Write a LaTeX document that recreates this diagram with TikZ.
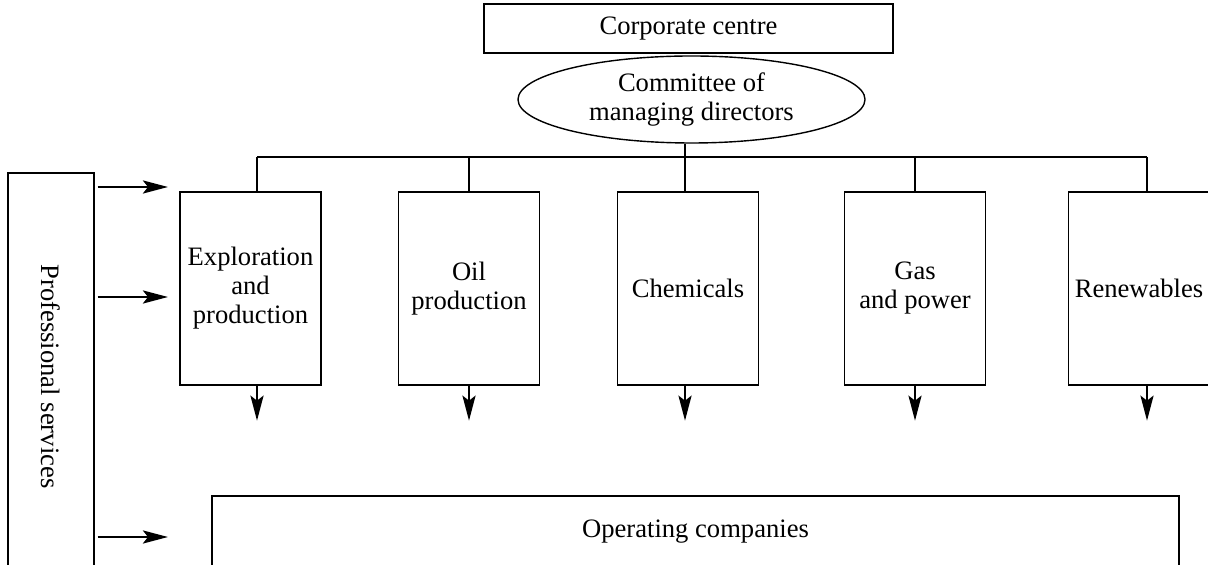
\documentclass[tikz,border=0pt]{standalone}
\usepackage{fontspec}
\setmainfont{Liberation Serif}
\usepackage{graphicx}
\usetikzlibrary{shapes, arrows.meta, positioning}
\tikzstyle{block} = [draw, fill=white, rectangle, line width=0.7pt, inner sep=0pt, align=center]
\tikzstyle{division} = [block, minimum width=70.5pt, minimum height=96.5pt]
\tikzstyle{feed} = [line width=1.35pt, -{Stealth[length=12.5pt, width=6.5pt, inset=2.5pt]}]

\begin{document}
\begin{tikzpicture}[x=0.5pt, y=-0.5pt, font=\fontsize{13.3}{14.5}\selectfont, line width=0.6pt]
    \clip (0,0) rectangle (1208,565);
    \node[block, minimum width=204.5pt, minimum height=24.5pt] (corp) at (688.5,28.5) {Corporate centre};
    \node[ellipse, draw, line width=0.7pt, inner sep=0pt, align=center, minimum width=173.5pt, minimum height=43.5pt] (cmd) at (691.5,99.5) {Committee of\\managing directors};
    \node[division] (expl) at (250.5,288.5) {Exploration\\and\\production};
    \node[division] (oil) at (469,288.5) {Oil\\production};
    \node[division] (chem) at (688,288.5) {Chemicals};
    \node[division] (gas) at (915,288.5) {Gas\\and power};
    \node[division] (renew) at (1139,288.5) {Renewables};
    \node[block, minimum width=483.5pt, minimum height=36pt] (ops) at (695.5,532) {Operating companies};
    \node[block, minimum width=43pt, minimum height=203.5pt] (ps) at (51,376.5) {\rotatebox{-90}{Professional services}};
    % bus from the committee
    \coordinate (b1) at (257,157);
    \coordinate (b2) at (469,157);
    \coordinate (b3) at (685,157);
    \coordinate (b4) at (915,157);
    \coordinate (b5) at (1147,157);
    \draw (cmd.south -| b3) -- (b3);
    \draw (b1) -- (b5);
    \draw (b1) -- (b1 |- expl.north);
    \draw (b2) -- (b2 |- oil.north);
    \draw (b3) -- (b3 |- chem.north);
    \draw (b4) -- (b4 |- gas.north);
    \draw (b5) -- (b5 |- renew.north);
    \draw[feed] (b1 |- expl.south) -- ++(0,35);
    \draw[feed] (b2 |- oil.south) -- ++(0,35);
    \draw[feed] (b3 |- chem.south) -- ++(0,35);
    \draw[feed] (b4 |- gas.south) -- ++(0,35);
    \draw[feed] (b5 |- renew.south) -- ++(0,35);
    % professional services
    \coordinate (a1) at (168,187);
    \coordinate (a2) at (168,297);
    \coordinate (a3) at (168,537);
    \draw[feed, shorten <=1.5pt] (ps.east |- a1) -- (a1);
    \draw[feed, shorten <=1.5pt] (ps.east |- a2) -- (a2);
    \draw[feed, shorten <=1.5pt] (ps.east |- a3) -- (a3);
\end{tikzpicture}
\end{document}
